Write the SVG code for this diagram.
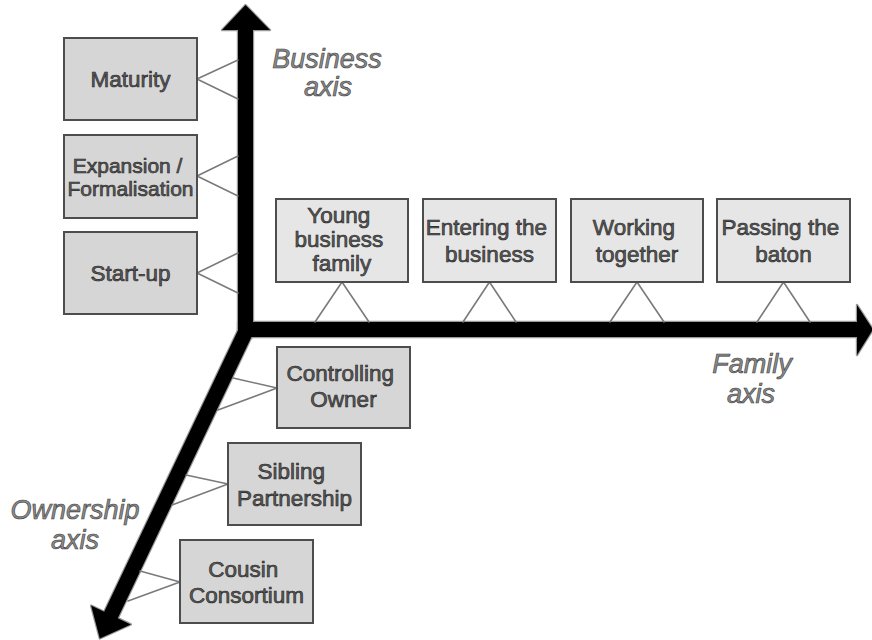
<svg xmlns="http://www.w3.org/2000/svg" width="872" height="640" viewBox="0 0 872 640">
  <style>
    .box { stroke: #4d4d4d; stroke-width: 2; }
    .stage-b { fill: #d6d6d6; }
    .stage-f { fill: #e6e6e6; }
    .stage-o { fill: #d6d6d6; }
    .lbl { font-family: "Liberation Sans", Arial, sans-serif; font-size: 22.5px; fill: #5a5a5a; stroke: #222; stroke-width: 0.6; text-anchor: middle; }
    .axis-lbl { font-family: "Liberation Sans", Arial, sans-serif; font-style: italic; font-size: 27px; fill: #8c8c8c; stroke: #3a3a3a; stroke-width: 0.6; text-anchor: middle; }
    .link { stroke: #7a7a7a; stroke-width: 1.6; fill: none; stroke-linecap: round; }
  </style>
  <defs>
    <polygon id="axisUp" points="238,337 238,30 222,30 245.5,5 270,30 253,30 253,337"/>
    <polygon id="axisRight" points="238,322 857,322 857,305 873,329.5 857,355 857,337 238,337"/>
    <polygon id="axisDown" points="238.7,328.8 252.3,335.2 117.8,618.2 130.9,624.4 99.8,638.5 91.1,605.6 104.2,611.8"/>
  </defs>

  <rect width="872" height="640" fill="#ffffff"/>

  <!-- the three axes: grey rim first, solid black body on top -->
  <g id="axes">
    <g fill="none" stroke="#9a9a9a" stroke-width="2.4" stroke-linejoin="round">
      <use href="#axisUp"/>
      <use href="#axisRight"/>
      <use href="#axisDown"/>
    </g>
    <g fill="#000000">
      <use href="#axisUp"/>
      <use href="#axisRight"/>
      <use href="#axisDown"/>
    </g>
  </g>

  <!-- connectors from each stage box to its axis -->
  <g id="connectors">
    <path class="link" d="M197,79 L238,60 M197,79 L238,99"/>
    <path class="link" d="M197,176 L238,156 M197,176 L238,196"/>
    <path class="link" d="M197,273 L238,253 M197,273 L238,293"/>

    <path class="link" d="M342,282 L315,322 M342,282 L369,322"/>
    <path class="link" d="M489.5,282 L463,322 M489.5,282 L516,322"/>
    <path class="link" d="M637,282 L610,322 M637,282 L664,322"/>
    <path class="link" d="M783.5,282 L757,322 M783.5,282 L810,322"/>

    <path class="link" d="M277,388 L233,378 M277,388 L218,410"/>
    <path class="link" d="M228,484 L186,475 M228,484 L172,505"/>
    <path class="link" d="M180,582 L140,571 M180,582 L128,601"/>
  </g>

  <!-- business axis stages -->
  <g id="maturity">
    <rect class="box stage-b" x="64" y="38" width="133" height="82"/>
    <text class="lbl" x="130.5" y="87">Maturity</text>
  </g>
  <g id="expansion">
    <rect class="box stage-b" x="64" y="135" width="133" height="83"/>
    <text class="lbl" x="130.5" style="font-size:21px">
      <tspan x="130.5" y="173">Expansion /</tspan>
      <tspan x="130.5" y="196">Formalisation</tspan>
    </text>
  </g>
  <g id="startup">
    <rect class="box stage-b" x="64" y="232" width="133" height="82"/>
    <text class="lbl" x="130.5" y="281">Start-up</text>
  </g>

  <!-- family axis stages -->
  <g id="young-family">
    <rect class="box stage-f" x="276" y="199" width="132" height="83"/>
    <text class="lbl">
      <tspan x="342" y="223">Young</tspan>
      <tspan x="342" y="247">business</tspan>
      <tspan x="342" y="271">family</tspan>
    </text>
  </g>
  <g id="entering">
    <rect class="box stage-f" x="423" y="199" width="133" height="83"/>
    <text class="lbl">
      <tspan x="489.5" y="235">Entering the</tspan>
      <tspan x="489.5" y="262">business</tspan>
    </text>
  </g>
  <g id="working">
    <rect class="box stage-f" x="571" y="199" width="132" height="83"/>
    <text class="lbl">
      <tspan x="637" y="235">Working</tspan>
      <tspan x="637" y="262">together</tspan>
    </text>
  </g>
  <g id="passing">
    <rect class="box stage-f" x="717" y="199" width="133" height="83"/>
    <text class="lbl">
      <tspan x="783.5" y="235">Passing the</tspan>
      <tspan x="783.5" y="262">baton</tspan>
    </text>
  </g>

  <!-- ownership axis stages -->
  <g id="controlling">
    <rect class="box stage-o" x="277" y="347" width="133" height="81"/>
    <text class="lbl">
      <tspan x="343.5" y="381">Controlling</tspan>
      <tspan x="343.5" y="407">Owner</tspan>
    </text>
  </g>
  <g id="sibling">
    <rect class="box stage-o" x="228" y="443" width="133" height="82"/>
    <text class="lbl">
      <tspan x="294.5" y="479">Sibling</tspan>
      <tspan x="294.5" y="506">Partnership</tspan>
    </text>
  </g>
  <g id="cousin">
    <rect class="box stage-o" x="180" y="540" width="133" height="83"/>
    <text class="lbl">
      <tspan x="246.5" y="577">Cousin</tspan>
      <tspan x="246.5" y="603">Consortium</tspan>
    </text>
  </g>

  <!-- axis titles -->
  <g id="axis-titles">
    <text class="axis-lbl"><tspan x="327" y="68">Business</tspan><tspan x="328" y="96">axis</tspan></text>
    <text class="axis-lbl"><tspan x="752" y="373">Family</tspan><tspan x="751" y="403">axis</tspan></text>
    <text class="axis-lbl"><tspan x="75" y="519">Ownership</tspan><tspan x="75" y="549">axis</tspan></text>
  </g>
</svg>
